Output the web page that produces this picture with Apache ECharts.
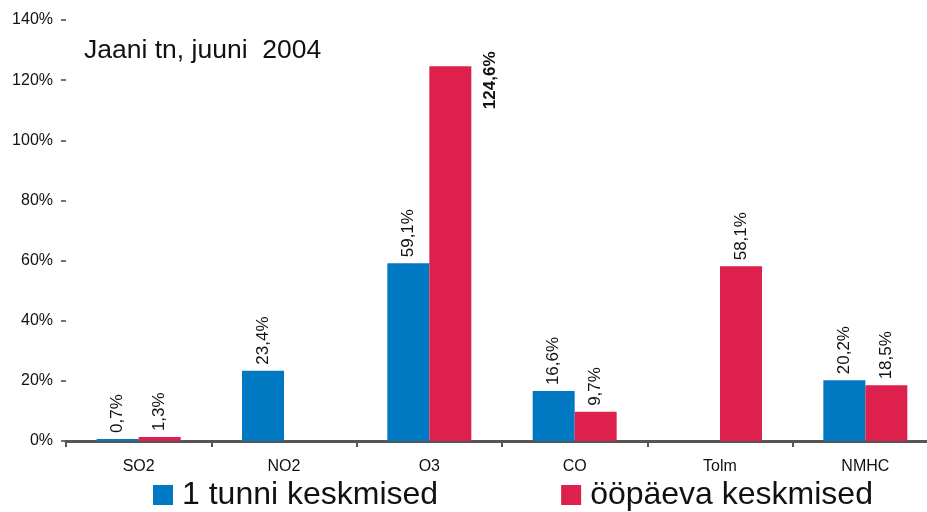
<!DOCTYPE html>
<html>
<head>
<meta charset="utf-8">
<script src="https://cdn.jsdelivr.net/npm/echarts@6/dist/echarts.min.js"></script>
<style>
  html, body { margin: 0; padding: 0; background: #fff; }
  #chart { width: 927px; height: 512px; }
</style>
</head>
<body>
<div id="chart"></div>
<script>
// andmed
const categories = ['SO2', 'NO2', 'O3', 'CO', 'Tolm', 'NMHC']
const hourly = [0.7, 23.4, 59.1, 16.6, null, 20.2]
const daily = [1.3, null, 124.6, 9.7, 58.1, 18.5]
const yTicks = [0, 20, 40, 60, 80, 100, 120, 140]
const titleText = 'Jaani tn, juuni  2004'

const FONT = '"Liberation Sans", Arial, Helvetica, sans-serif'
const BLUE = '#0078c2'
const RED = '#dd204c'

const fmt = v => String(v).replace('.', ',') + '%'

const barLabel = {
    show: true,
    position: 'top',
    rotate: 90,
    align: 'left',
    verticalAlign: 'middle',
    distance: 6,
    fontFamily: FONT,
    fontSize: 17,
    color: '#111',
    formatter: p => fmt(p.value)
}

const chart = echarts.init(document.getElementById('chart'))

const dailyData = daily.map(v => {
    if (v === 124.6) {
        return {
            value: v,
            label: {
                position: [61, 14],
                align: 'center',
                verticalAlign: 'middle',
                fontWeight: 'bold'
            }
        }
    }
    return v
})

chart.setOption({
    animation: false,
    backgroundColor: '#fff',
    title: {
        text: titleText,
        left: 79,
        top: 32,
        textStyle: { fontFamily: FONT, fontSize: 26.5, fontWeight: 'normal', color: '#111' }
    },
    legend: {
        left: 153,
        top: 479,
        padding: 0,
        itemWidth: 20,
        itemHeight: 20,
        itemGap: 123,
        icon: 'rect',
        textStyle: { fontFamily: FONT, fontSize: 32, lineHeight: 30, color: '#111', padding: [0, 0, 0, 4] },
        data: ['1 tunni keskmised', 'ööpäeva keskmised']
    },
    grid: { left: 66, width: 872, top: 20, bottom: 71, outerBoundsMode: 'none' },
    xAxis: {
        type: 'category',
        data: categories,
        axisLine: { show: true, lineStyle: { color: '#555', width: 3 } },
        axisTick: { show: true, length: 6, lineStyle: { color: '#555', width: 2 } },
        axisLabel: { fontFamily: FONT, fontSize: 16, color: '#111', margin: 18 }
    },
    yAxis: {
        type: 'value',
        min: yTicks[0],
        max: yTicks[yTicks.length - 1],
        interval: 20,
        splitLine: { show: false },
        axisLine: { show: false },
        axisTick: { show: true, length: 5, lineStyle: { color: '#444', width: 1.5 } },
        axisLabel: { fontFamily: FONT, fontSize: 16, color: '#111', margin: 13, formatter: v => v + '%' }
    },
    series: [
        {
            name: '1 tunni keskmised',
            type: 'bar',
            data: hourly,
            barWidth: 42,
            barGap: '0%',
            itemStyle: { color: BLUE },
            label: barLabel
        },
        {
            name: 'ööpäeva keskmised',
            type: 'bar',
            data: dailyData,
            barWidth: 42,
            barGap: '0%',
            itemStyle: { color: RED },
            label: barLabel
        }
    ]
})
</script>
</body>
</html>
